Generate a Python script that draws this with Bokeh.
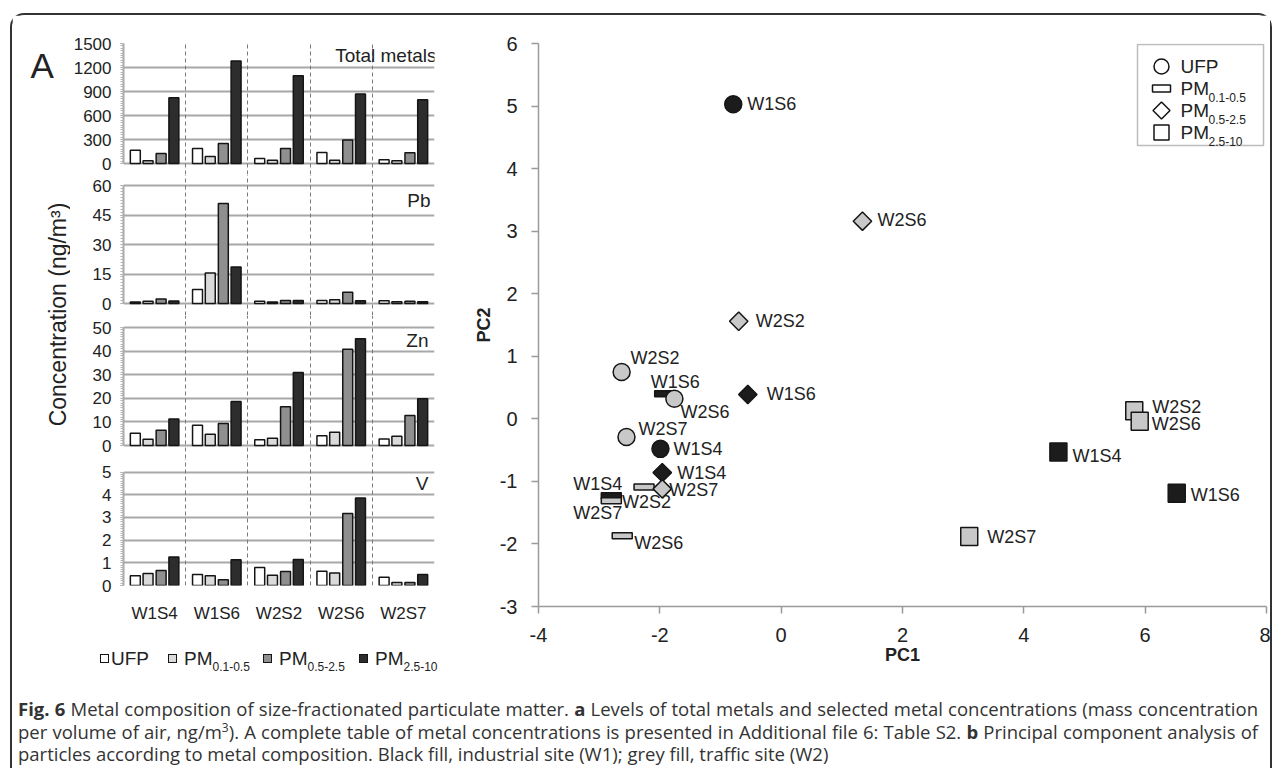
import math
from bokeh.plotting import figure
from bokeh.layouts import row, column
from bokeh.models import (ColumnDataSource, FactorRange, Range1d, FixedTicker, Grid,
                          Label, BoxAnnotation, Div)
from bokeh.transform import dodge
from bokeh.core.properties import value
from bokeh.embed import file_html
from bokeh.resources import INLINE

# ---------------------------------------------------------------- data
sites = ["W1S4", "W1S6", "W2S2", "W2S6", "W2S7"]
fractions = ["UFP", "PM0.1-0.5", "PM0.5-2.5", "PM2.5-10"]
fraction_main = ["UFP", "PM", "PM", "PM"]
fraction_sub = ["", "0.1-0.5", "0.5-2.5", "2.5-10"]

total_ufp = [167, 188, 63, 138, 46]
total_pm01 = [34, 88, 42, 42, 34]
total_pm05 = [125, 250, 188, 294, 134]
total_pm25 = [821, 1280, 1096, 869, 796]

pb_ufp = [0.8, 7.1, 1.2, 1.5, 1.4]
pb_pm01 = [1.2, 15.5, 0.8, 1.9, 0.9]
pb_pm05 = [2.3, 50.9, 1.5, 5.7, 1.2]
pb_pm25 = [1.3, 18.5, 1.5, 1.4, 0.9]

zn_ufp = [5.2, 8.6, 2.4, 4.1, 2.8]
zn_pm01 = [2.7, 4.8, 3.1, 5.6, 3.9]
zn_pm05 = [6.5, 9.3, 16.4, 40.8, 12.7]
zn_pm25 = [11.2, 18.6, 30.9, 45.2, 19.8]

v_ufp = [0.43, 0.49, 0.79, 0.63, 0.36]
v_pm01 = [0.53, 0.43, 0.45, 0.55, 0.13]
v_pm05 = [0.66, 0.25, 0.62, 3.17, 0.13]
v_pm25 = [1.26, 1.13, 1.15, 3.86, 0.49]

metal_names = ["Total metals", "Pb", "Zn", "V"]
metal_ticks = [[0, 300, 600, 900, 1200, 1500],
               [0, 15, 30, 45, 60],
               [0, 10, 20, 30, 40, 50],
               [0, 1, 2, 3, 4, 5]]
metal_values = [[total_ufp, total_pm01, total_pm05, total_pm25],
                [pb_ufp, pb_pm01, pb_pm05, pb_pm25],
                [zn_ufp, zn_pm01, zn_pm05, zn_pm25],
                [v_ufp, v_pm01, v_pm05, v_pm25]]

# PCA scores
pc_fraction = ["UFP"] * 5 + ["PM0.1-0.5"] * 5 + ["PM0.5-2.5"] * 5 + ["PM2.5-10"] * 5
pc_site = ["W1S4", "W1S6", "W2S2", "W2S6", "W2S7",
           "W1S4", "W1S6", "W2S2", "W2S6", "W2S7",
           "W1S4", "W1S6", "W2S2", "W2S6", "W2S7",
           "W1S4", "W1S6", "W2S2", "W2S6", "W2S7"]
pc1 = [-1.99, -0.79, -2.63, -1.76, -2.55,
       -2.80, -1.92, -2.26, -2.62, -2.80,
       -1.96, -0.55, -0.70, 1.34, -1.96,
       4.57, 6.52, 5.82, 5.91, 3.10]
pc2 = [-0.48, 5.03, 0.75, 0.32, -0.29,
       -1.23, 0.40, -1.09, -1.87, -1.31,
       -0.86, 0.39, 1.56, 3.16, -1.12,
       -0.53, -1.19, 0.13, -0.04, -1.88]
pc1_ticks = [-4, -2, 0, 2, 4, 6, 8]
pc2_ticks = [-3, -2, -1, 0, 1, 2, 3, 4, 5, 6]

# ---------------------------------------------------------------- styles
FONT = "Liberation Sans"
TXT = "#222222"
GRID = "#a8a8a8"
frac_colors = ["#ffffff", "#dadada", "#8f8f8f", "#2d2d2d"]
bar_offsets = [-0.31, -0.105, 0.105, 0.31]
site_fill = {"W1": "#1c1c1c", "W2": "#c8c8c8"}

# label placement for the PCA point names (pixels), same order as the data
lab_dx = [13, 14, 9, 6, 12,
          11, -14, -22, 12, 11,
          15, 19, 17, 15, 7,
          14, 14, 18, 12, 18]
lab_dy = [0, 0, -14, 13, -8,
          -12, -12, 15, 7, 12,
          0, 0, 0, -1, 1,
          4, 2, -4, 3, 1]
lab_align = ["left"] * 5 + ["right", "left", "left", "left", "right"] + ["left"] * 10

# band layout of panel A (pixels)
band_layout = [
    dict(h=120, top=0, bottom=11, bt=28, bb=0, tdx=2, tdy=12),
    dict(h=118, top=11, bottom=12, bt=0, bb=0, tdx=-4, tdy=15),
    dict(h=118, top=12, bottom=13, bt=0, bb=0, tdx=-6, tdy=13),
    dict(h=117, top=14, bottom=0, bt=0, bb=36, tdx=-6, tdy=11),
]


def band_figure(i):
    st = band_layout[i]
    ticks = metal_ticks[i]
    vmax = ticks[-1]
    k = vmax / st["h"]
    frame_h = st["h"] + st["top"] + st["bottom"]
    last = (i == len(band_layout) - 1)
    p = figure(width=385, height=st["bt"] + frame_h + st["bb"],
               x_range=FactorRange(factors=sites),
               y_range=Range1d(-st["bottom"] * k, vmax + st["top"] * k),
               x_axis_location="below" if last else None, y_axis_location="left",
               output_backend="svg", toolbar_location=None, title=None,
               min_border_left=51, min_border_right=21,
               min_border_top=st["bt"], min_border_bottom=st["bb"])
    p.outline_line_color = None
    p.background_fill_color = "white"
    p.xgrid.visible = False

    step = (ticks[1] - ticks[0]) / 10.0
    minor = [round(j * step, 6) for j in range(int(round(vmax / step)) + 1)]
    ticker = FixedTicker(ticks=ticks, minor_ticks=minor)
    ax = p.yaxis[0]
    ax.ticker = ticker
    ax.bounds = (0, vmax)
    ax.axis_line_color = GRID
    ax.axis_line_width = 2
    ax.major_tick_line_color = GRID
    ax.major_tick_out = 3
    ax.major_tick_in = 0
    ax.minor_tick_line_color = "#b4b4b4"
    ax.minor_tick_out = 3
    ax.minor_tick_in = 0
    ax.major_label_text_font = FONT
    ax.major_label_text_font_size = "17px"
    ax.major_label_text_color = TXT
    ax.major_label_standoff = 9

    g = p.ygrid[0]
    g.ticker = ticker
    g.grid_line_color = GRID
    g.grid_line_width = 2

    p.add_layout(Grid(dimension=0, ticker=FixedTicker(ticks=list(range(1, len(sites)))),
                      grid_line_color="#7a7a7a", grid_line_dash="4 3", grid_line_width=1))

    data = dict(site=sites)
    for j in range(len(fractions)):
        data["f%d" % j] = metal_values[i][j]
    src = ColumnDataSource(data)
    for j in range(len(fractions)):
        p.vbar(x=dodge("site", bar_offsets[j], range=p.x_range), top="f%d" % j, bottom=0,
               width=0.16, source=src, fill_color=frac_colors[j],
               line_color="#151515", line_width=1.5)

    p.add_layout(Label(x=len(sites), y=vmax, x_offset=st["tdx"], y_offset=-st["tdy"],
                       text=metal_names[i], text_align="right", text_baseline="middle",
                       text_font=FONT, text_font_size="19px", text_color=TXT))
    if last:
        xa = p.xaxis[0]
        xa.axis_line_color = None
        xa.major_tick_line_color = None
        xa.minor_tick_line_color = None
        xa.major_label_text_font = FONT
        xa.major_label_text_font_size = "17px"
        xa.major_label_text_color = TXT
        xa.major_label_standoff = 12
    return p


bands = [band_figure(i) for i in range(len(metal_names))]

# legend of panel A (HTML, positions in pixels inside a 385x70 box)
sw_x = [30, 98, 193, 289]
tx_main = [41, 114, 209, 305]
leg_parts = []
for j in range(len(fractions)):
    leg_parts.append(
        '<span style="position:absolute; left:%dpx; top:29px; width:9px; height:9px; '
        'border:1.4px solid #151515; background:%s;"></span>' % (sw_x[j], frac_colors[j]))
    leg_parts.append(
        '<span style="position:absolute; left:%dpx; top:23px; font-size:19px; line-height:22px; '
        'white-space:nowrap;">%s<span style="font-size:12px; position:relative; top:6px;">%s'
        '</span></span>' % (tx_main[j], fraction_main[j], fraction_sub[j]))
legend_a = Div(text='<div style="position:relative; width:385px; height:70px; '
                    'font-family:\'Liberation Sans\'; color:#222;">' + "".join(leg_parts) + '</div>',
               width=385, height=70, margin=0)

# left strip: panel letter + shared y label (page pixel coordinates)
fy = figure(width=58, height=680, x_range=Range1d(12, 70), y_range=Range1d(606, 43),
            x_axis_location=None, y_axis_location=None,
            min_border_left=0, min_border_right=0, min_border_top=28, min_border_bottom=89,
            output_backend="svg", toolbar_location=None, title=None)
fy.outline_line_color = None
fy.grid.visible = False
fy.add_layout(Label(x=30, y=65, text="A", text_font=FONT, text_font_size="35px",
                    text_color=TXT, text_baseline="alphabetic"))
fy.add_layout(Label(x=57, y=314, text="Concentration (ng/m\u00b3)", angle=math.pi / 2,
                    text_align="center", text_baseline="middle", text_font=FONT,
                    text_font_size="23px", text_color=TXT))

# ---------------------------------------------------------------- panel B
BL, BR, BT, BB = 538, 1266, 43, 606
pB = figure(width=815, height=680, x_range=Range1d(pc1_ticks[0], pc1_ticks[-1]),
            y_range=Range1d(pc2_ticks[0], pc2_ticks[-1]),
            output_backend="svg", toolbar_location=None, title=None,
            min_border_left=83, min_border_right=4, min_border_top=28, min_border_bottom=89)
pB.outline_line_color = None
pB.grid.visible = False
for ax, tk, lab in ((pB.xaxis[0], pc1_ticks, "PC1"), (pB.yaxis[0], pc2_ticks, "PC2")):
    ax.ticker = FixedTicker(ticks=tk)
    ax.major_label_overrides = {t: str(t) for t in tk}
    ax.axis_line_color = "#9a9a9a"
    ax.axis_line_width = 1.5
    ax.major_tick_line_color = "#9a9a9a"
    ax.major_tick_line_width = 1.5
    ax.major_tick_out = 7
    ax.major_tick_in = 0
    ax.minor_tick_line_color = None
    ax.major_label_text_font = FONT
    ax.major_label_text_font_size = "20px"
    ax.major_label_text_color = TXT
    ax.axis_label = lab
    ax.axis_label_text_font = FONT
    ax.axis_label_text_font_style = "bold"
    ax.axis_label_text_font_size = "18px"
    ax.axis_label_text_color = TXT
pB.xaxis[0].major_label_standoff = 14
pB.xaxis[0].axis_label_standoff = 0
pB.yaxis[0].major_label_standoff = 14
pB.yaxis[0].axis_label_standoff = 3


def bx(px):
    return pc1_ticks[0] + (px - BL) / (BR - BL) * (pc1_ticks[-1] - pc1_ticks[0])


def by(py):
    return pc2_ticks[0] + (BB - py) / (BB - BT) * (pc2_ticks[-1] - pc2_ticks[0])


def subset(frac):
    idx = [n for n, f in enumerate(pc_fraction) if f == frac]
    return ColumnDataSource(dict(
        x=[pc1[n] for n in idx], y=[pc2[n] for n in idx],
        site=[pc_site[n] for n in idx],
        fill=[site_fill[pc_site[n][:2]] for n in idx],
        dx=[lab_dx[n] for n in idx], dy=[lab_dy[n] for n in idx],
        align=[lab_align[n] for n in idx]))


src_ufp = subset("UFP")
src_01 = subset("PM0.1-0.5")
src_05 = subset("PM0.5-2.5")
src_25 = subset("PM2.5-10")

MK_LINE = "#151515"
pB.rect(x="x", y="y", width=20, height=6, width_units="screen", height_units="screen",
        source=src_01, fill_color="fill", line_color=MK_LINE, line_width=1.5)
pB.scatter(x="x", y="y", marker="circle", size=17, source=src_ufp,
           fill_color="fill", line_color=MK_LINE, line_width=1.5)
pB.scatter(x="x", y="y", marker="square", angle=math.pi / 4, size=13, source=src_05,
           fill_color="fill", line_color=MK_LINE, line_width=1.5)
pB.rect(x="x", y="y", width=17, height=18, width_units="screen", height_units="screen",
        source=src_25, fill_color="fill", line_color=MK_LINE, line_width=1.5)
for s in (src_01, src_ufp, src_05, src_25):
    pB.text(x="x", y="y", text="site", x_offset="dx", y_offset="dy", text_align="align",
            text_baseline="middle", source=s, text_font=value(FONT),
            text_font_size="18px", text_color=TXT)

# legend of panel B
pB.add_layout(BoxAnnotation(left=bx(1137), right=bx(1263), top=by(44), bottom=by(145),
                            fill_color="white", fill_alpha=1.0, line_color="#222222",
                            line_width=1.5, level="underlay"))
leg_y = [66, 88, 110, 132]
mx = bx(1161)
pB.scatter(x=[mx], y=[by(leg_y[0])], marker="circle", size=15, fill_color="white",
           line_color=MK_LINE, line_width=1.5)
pB.rect(x=[mx], y=[by(leg_y[1])], width=18, height=7, width_units="screen",
        height_units="screen", fill_color="white", line_color=MK_LINE, line_width=1.5)
pB.scatter(x=[mx], y=[by(leg_y[2])], marker="square", angle=math.pi / 4, size=12,
           fill_color="white", line_color=MK_LINE, line_width=1.5)
pB.rect(x=[mx], y=[by(leg_y[3])], width=15, height=15, width_units="screen",
        height_units="screen", fill_color="white", line_color=MK_LINE, line_width=1.5)
pB.text(x=[bx(1180)] * 4, y=[by(v) for v in leg_y], text=fraction_main,
        text_font=value(FONT), text_font_size="19px", text_color=TXT, text_baseline="middle")
pB.text(x=[bx(1208)] * 4, y=[by(v + 9) for v in leg_y], text=fraction_sub,
        text_font=value(FONT), text_font_size="12px", text_color=TXT, text_baseline="middle")

pB.add_layout(Label(x=bx(458), y=by(65), text="B", text_font=FONT, text_font_size="35px",
                    text_color=TXT, text_baseline="alphabetic"))

# ---------------------------------------------------------------- caption
line_css = "text-align: justify; text-align-last: justify; white-space: nowrap;"
caption_html = (
    '<div style="width:1246px; padding:3px 0 0 6px; font-family:\'Open Sans\'; '
    'font-size:18.5px; line-height:22.5px; color:#333;">'
    '<div style="' + line_css + '"><b>Fig. 6</b> Metal composition of size-fractionated '
    'particulate matter. <b>a</b> Levels of total metals and selected metal concentrations '
    '(mass concentration</div>'
    '<div style="' + line_css + '">per volume of air, ng/m<span style="font-size:12px; '
    'vertical-align:top; line-height:14px;">3</span>). A complete table of metal concentrations '
    'is presented in Additional file 6: Table S2. <b>b</b> Principal component analysis of</div>'
    '<div>particles according to metal composition. Black fill, industrial site (W1); '
    'grey fill, traffic site (W2)</div>'
    '</div>')
caption = Div(text=caption_html, width=1258, height=85, margin=0)

left_col = column(*bands, legend_a, spacing=0)
chart = row(fy, left_col, pB, spacing=0)
content = column(chart, caption, spacing=0,
                 styles={"border": "2px solid #333333", "border-radius": "14px",
                         "margin-left": "10px", "margin-top": "13px"})

open("out.html", "w").write(file_html(content, INLINE))
